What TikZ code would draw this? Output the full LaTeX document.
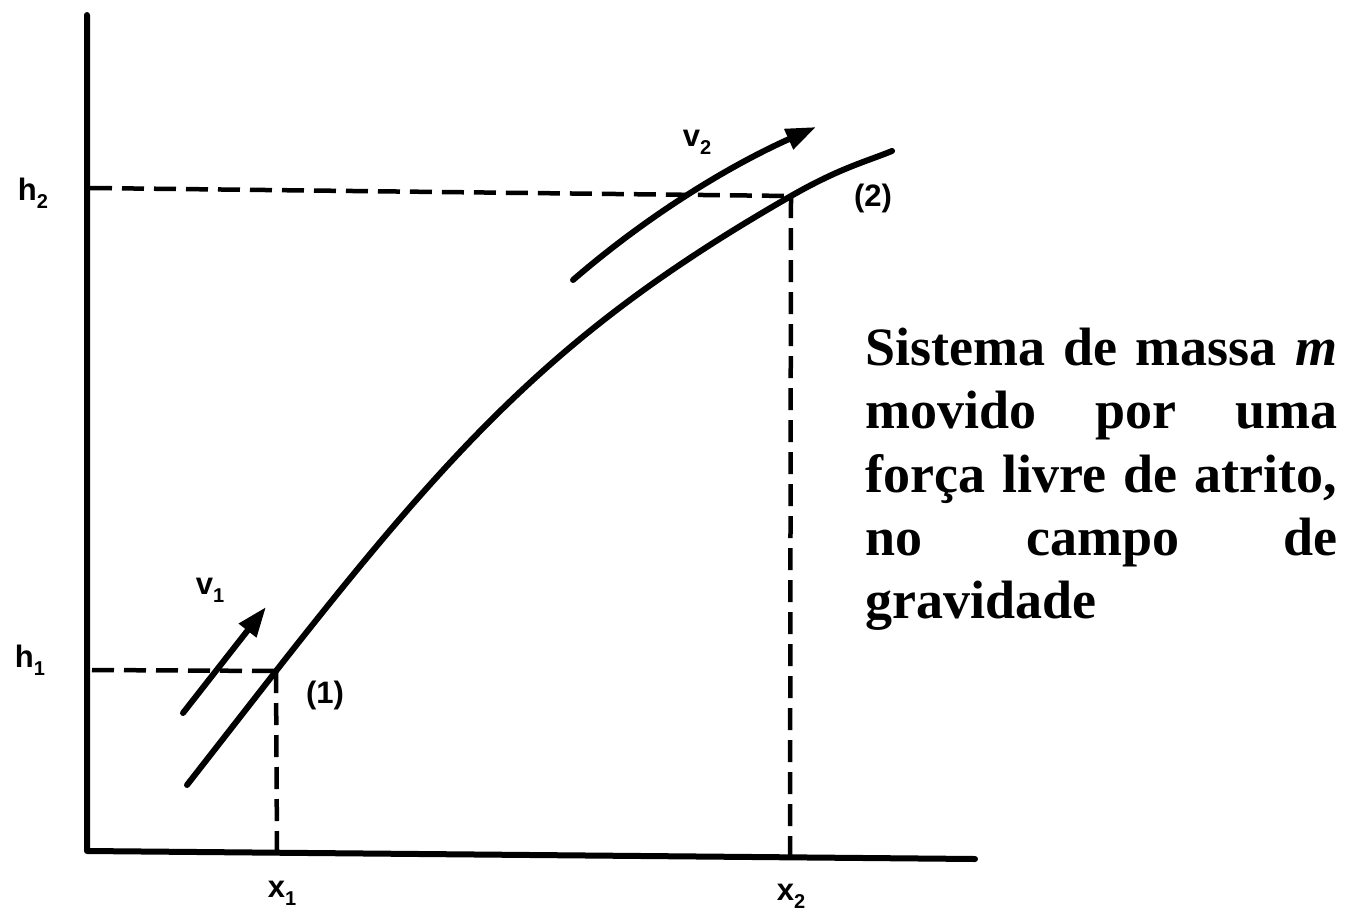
\documentclass[tikz,border=0pt]{standalone}
\usepackage{fontspec}
\setmainfont{Liberation Serif}
\newfontfamily\lblfont{Liberation Sans}
\usetikzlibrary{arrows.meta}
\newcommand{\lblsub}[2]{#1\raisebox{-0.25em}{\fontsize{20}{20}\selectfont #2}}
\begin{document}
\begin{tikzpicture}[x=1pt,y=-1pt,
  axisline/.style={line width=6pt, line cap=round, line join=round},
  guide/.style={line width=4.5pt, dash pattern=on 22pt off 10pt},
  track/.style={line width=6pt, line cap=round},
  vel/.style={line width=6pt, line cap=round, -{Triangle[length=30pt,width=21pt]}},
  lab/.style={inner sep=0pt, font=\lblfont\bfseries\fontsize{31}{31}\selectfont},
  ptlab/.style={inner sep=0pt, font=\lblfont\bfseries\fontsize{31}{31}\selectfont},
  txtline/.style={inner sep=0pt, anchor=base west, font=\bfseries\fontsize{54}{63}\selectfont},
]
\useasboundingbox (0,0) rectangle (1346,910);
% axes
\coordinate (ytop) at (87,15);
\coordinate (O) at (87,851);
\coordinate (xend) at (975,859);
\draw[axisline] (ytop) -- (O) -- (xend);
% points
\coordinate (P1) at (276,671);
\coordinate (P2) at (791,196);
\coordinate (H1) at (92,670);
\coordinate (H2) at (90,188);
\coordinate (X1) at (277,853);
\coordinate (X2) at (790,857);
% dashed guides
\draw[guide] (H2) -- (P2);
\draw[guide] (H1) -- (P1);
\draw[guide] (P1) -- (X1);
\draw[guide] (P2) -- (X2);
% trajectory
\coordinate (C0) at (187,785);
\coordinate (C9) at (892,151);
\draw[track] (C0) -- (P1) .. controls (461,435) and (566,325) .. (P2)
  .. controls (840,168) and (865,162) .. (C9);
% velocity arrows
\coordinate (v1s) at (183,713);
\coordinate (v1e) at (266,607);
\draw[vel] (v1s) -- (v1e);
\coordinate (v2s) at (573,280);
\coordinate (v2e) at (816,127);
\draw[vel] (v2s) .. controls (640,222) and (720,170) .. (v2e);
% labels
\node[lab] (h2) at (33,193) {\lblsub{h}{2}};
\node[lab] (h1) at (30,660) {\lblsub{h}{1}};
\node[lab] (v1) at (210,590) {\lblsub{v}{1}};
\node[lab] (v2) at (697,142) {\lblsub{v}{2}};
\node[lab] (x1) at (282,893) {\lblsub{x}{1}};
\node[lab] (x2) at (791,896) {\lblsub{x}{2}};
\node[ptlab] (n1) at (325,695) {(1)};
\node[ptlab] (n2) at (873,198) {(2)};
% text
\node[txtline] (t1) at (865,365) {\makebox[472pt][s]{Sistema de massa \textit{m}}};
\node[txtline] (t2) at (865,428) {\makebox[472pt][s]{movido por uma}};
\node[txtline] (t3) at (865,492) {\makebox[472pt][s]{força livre de atrito,}};
\node[txtline] (t4) at (865,555) {\makebox[472pt][s]{no campo de}};
\node[txtline] (t5) at (865,618) {gravidade};
\end{tikzpicture}
\end{document}
